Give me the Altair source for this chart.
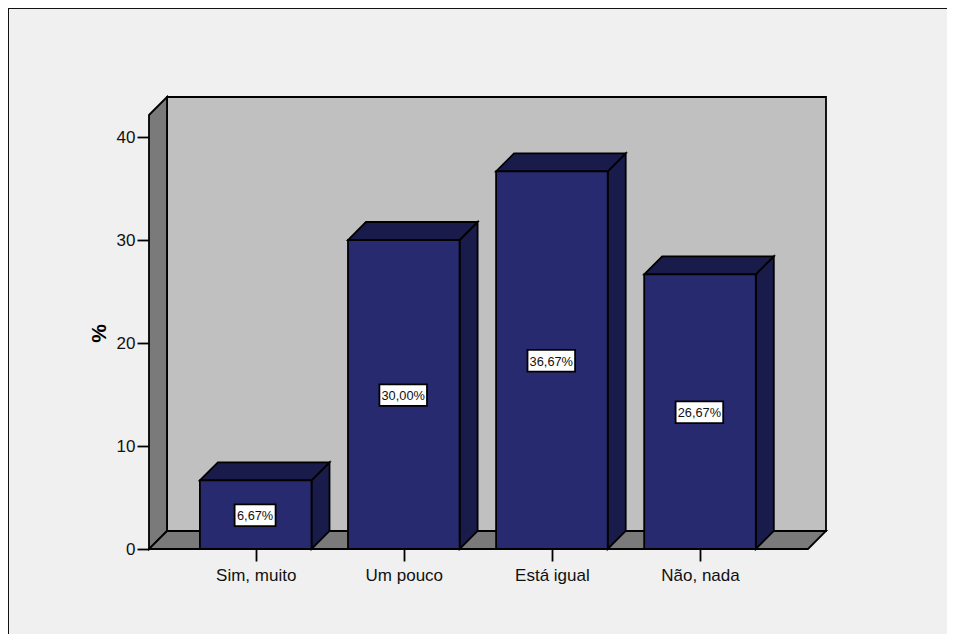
import json
import altair as alt
import pandas as pd

categories = ["Sim, muito", "Um pouco", "Está igual", "Não, nada"]
percent = [6.67, 30.00, 36.67, 26.67]
labels = ["6,67%", "30,00%", "36,67%", "26,67%"]
y_ticks = [0, 10, 20, 30, 40]

# Scale geometry
PX_SLOT = 148.1          # px per category slot
PX_UNIT = 10.3           # px per percentage point
WIDTH, HEIGHT = 677, 452
X_MIN = -106.7 / PX_SLOT
X_MAX = X_MIN + WIDTH / PX_SLOT
Y_MAX = HEIGHT / PX_UNIT
DX = 18 / PX_SLOT        # oblique depth, in x units
DY = 18 / PX_UNIT        # oblique depth, in y units
HALF = 55.8 / PX_SLOT    # half a bar
FLOOR_R = X_MAX - DX
WALL_T = Y_MAX - DY
BOX_SHIFT_X = -0.6 / PX_SLOT
BOX_SHIFT_Y = -0.6 / PX_UNIT

FRONT, SIDE, WALL, BACK, BG = "#282a70", "#191b4a", "#7a7a7a", "#c0c0c0", "#f0f0f0"
LW = 1.8
FONT = "Liberation Sans"

xs = alt.Scale(domain=[X_MIN, X_MAX], nice=False, zero=False)
ys = alt.Scale(domain=[0, Y_MAX], nice=False, zero=False)
label_expr = "%s[datum.value]" % json.dumps(categories, ensure_ascii=False)
x_axis = alt.Axis(
    values=[0, 1, 2, 3], labelExpr=label_expr, domain=False, grid=False,
    tickSize=12, tickWidth=LW, tickColor="black", labelFont=FONT, labelFontSize=17,
    labelColor="#111111", labelPadding=6, labelOverlap=False, labelFlush=False)
y_axis = alt.Axis(
    values=y_ticks, format="d", domain=False, grid=False,
    tickSize=12, tickWidth=LW, tickColor="black", labelFont=FONT, labelFontSize=17,
    labelColor="#111111", labelPadding=2, titleFont=FONT, titleFontSize=21,
    titleFontWeight="bold", titleColor="black", titleX=-40, titleY=236)
X = alt.X("x:Q", scale=xs, title=None, axis=x_axis)
Y = alt.Y("y:Q", scale=ys, title="%", axis=y_axis)
X2 = alt.X2("x2:Q")
Y2 = alt.Y2("y2:Q")

# Box walls
back = alt.Chart(pd.DataFrame({"x": [X_MIN + DX], "x2": [X_MAX], "y": [DY], "y2": [Y_MAX]})).mark_rect(
    fill=BACK, stroke="black", strokeWidth=LW).encode(x=X, x2=X2, y=Y, y2=Y2)
left = alt.Chart(pd.DataFrame({"x": [X_MIN, X_MIN + DX], "y": [WALL_T, Y_MAX], "y2": [0, DY]})).mark_area(
    fill=WALL, stroke="black", strokeWidth=LW, interpolate="linear").encode(x=X, y=Y, y2=Y2)
floor = alt.Chart(pd.DataFrame({"y": [0, DY], "x": [X_MIN, X_MIN + DX], "x2": [FLOOR_R, X_MAX]})).mark_area(
    fill=WALL, stroke="black", strokeWidth=LW, orient="horizontal", interpolate="linear").encode(x=X, x2=X2, y=Y)

# Bars
front_rows, side_rows, top_rows, box_rows = [], [], [], []
for i, (v, lab) in enumerate(zip(percent, labels)):
    l, r = i - HALF, i + HALF
    front_rows.append({"x": l, "x2": r, "y": 0, "y2": v})
    side_rows += [{"b": i, "x": r, "y": v, "y2": 0}, {"b": i, "x": r + DX, "y": v + DY, "y2": DY}]
    top_rows += [{"b": i, "y": v, "x": l, "x2": r}, {"b": i, "y": v + DY, "x": l + DX, "x2": r + DX}]
    half_w = (len(lab) * 6.6 + 8) / 2 / PX_SLOT
    half_h = 10.8 / PX_UNIT
    cx, cy = i + BOX_SHIFT_X, v / 2 + BOX_SHIFT_Y
    box_rows.append({"x": cx - half_w, "x2": cx + half_w, "y": cy - half_h, "y2": cy + half_h,
                     "c": cx, "m": cy, "t": lab})

side = alt.Chart(pd.DataFrame(side_rows)).mark_area(
    fill=SIDE, stroke="black", strokeWidth=LW, interpolate="linear").encode(
    x=X, y=Y, y2=Y2, detail="b:N")
top = alt.Chart(pd.DataFrame(top_rows)).mark_area(
    fill=SIDE, stroke="black", strokeWidth=LW, orient="horizontal", interpolate="linear").encode(
    x=X, x2=X2, y=Y, detail="b:N")
front = alt.Chart(pd.DataFrame(front_rows)).mark_rect(
    fill=FRONT, stroke="black", strokeWidth=LW).encode(x=X, x2=X2, y=Y, y2=Y2)

boxes = pd.DataFrame(box_rows)
box = alt.Chart(boxes).mark_rect(fill="white", stroke="black", strokeWidth=LW).encode(x=X, x2=X2, y=Y, y2=Y2)
text = alt.Chart(boxes).mark_text(font=FONT, fontSize=12.8, color="#111111", baseline="middle", dy=1).encode(
    x=alt.X("c:Q", scale=xs, title=None, axis=x_axis), y=alt.Y("m:Q", scale=ys, title="%", axis=y_axis), text="t:N")

# Outer frame (top and left edges of the picture)
frame_l = alt.Chart(pd.DataFrame({"a": [0]})).mark_rule(color="#111111", strokeWidth=2).encode(
    x=alt.value(-141), y=alt.value(-89), y2=alt.value(537))
frame_t = alt.Chart(pd.DataFrame({"a": [0]})).mark_rule(color="#111111", strokeWidth=2).encode(
    y=alt.value(-89), x=alt.value(-141), x2=alt.value(798))

chart = alt.layer(back, left, floor, side, top, front, box, text, frame_l, frame_t).properties(
    width=WIDTH, height=HEIGHT,
    padding={"left": 141, "top": 89, "right": 121, "bottom": 85},
    autosize=alt.AutoSizeParams(type="none"),
    background=BG,
).configure_view(stroke=None)

chart.save("out.html", embed_options={"renderer": "svg", "actions": False})
